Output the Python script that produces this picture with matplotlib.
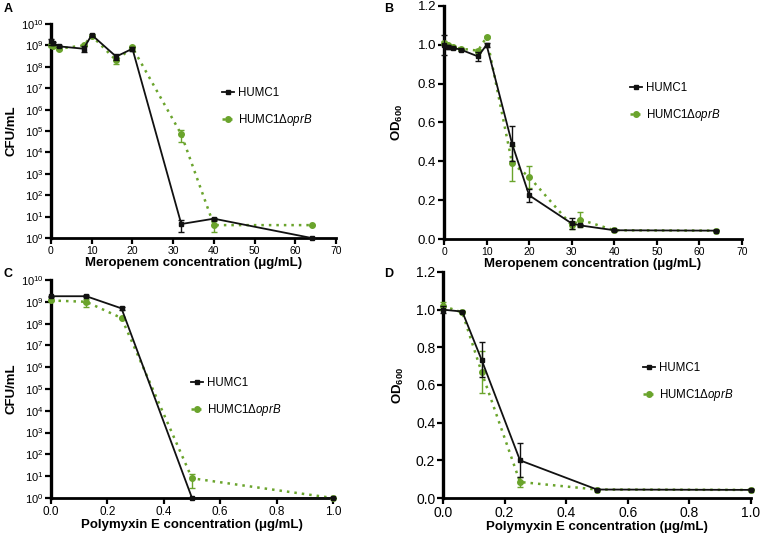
import numpy as np
import matplotlib
matplotlib.use("Agg")
import matplotlib.pyplot as plt
from matplotlib.lines import Line2D
from matplotlib.ticker import FixedLocator, NullLocator

plt.rcParams['font.family'] = ['Liberation Sans', 'DejaVu Sans']
plt.rcParams['mathtext.fontset'] = 'custom'
plt.rcParams['mathtext.rm'] = 'Liberation Sans'
plt.rcParams['mathtext.it'] = 'Liberation Sans:italic'
plt.rcParams['mathtext.bf'] = 'Liberation Sans:bold'

BLACK = '#111111'
GREEN = '#6aa42c'
LABELS = ['HUMC1', 'HUMC1Δ$\\mathit{oprB}$']

# Panel A: meropenem, CFU/mL
mero_cfu_x = [0, 0.5, 2, 8, 10, 16, 20, 32, 40, 64]
mero_cfu_wt = [1.6e9, 1.3e9, 9e8, 7e8, 3.1e9, 3e8, 7e8, 4.5, 8, 1]
mero_cfu_wt_err = [0.5e9, 0.2e9, 0.1e9, 2e8, 0.4e9, 1e8, 1.5e8, 2.5, 1, 0]
mero_cfu_mut = [1.0e9, 9e8, 7e8, 1.0e9, 2.8e9, 2e8, 8e8, 7e4, 4, 4]
mero_cfu_mut_err = [0.2e9, 0.1e9, 0.1e9, 0.1e9, 0.3e9, 0.6e8, 1e8, 4e4, 2, 0]

# Panel B: meropenem, OD600
mero_od_x = [0, 1, 2, 4, 8, 10, 16, 20, 30, 32, 40, 64]
mero_od_wt = [1.0, 0.99, 0.985, 0.975, 0.94, 1.0, 0.49, 0.225, 0.08, 0.07, 0.045, 0.043]
mero_od_wt_err = [0.05, 0.01, 0.005, 0.005, 0.025, 0.01, 0.09, 0.035, 0.03, 0.005, 0.003, 0.003]
mero_od_mut = [1.01, 1.0, 0.99, 0.98, 0.97, 1.04, 0.39, 0.32, 0.07, 0.10, 0.045, 0.043]
mero_od_mut_err = [0.01, 0.005, 0.005, 0.005, 0.01, 0.005, 0.09, 0.055, 0.02, 0.04, 0.003, 0.003]

# Panel C: polymyxin E, CFU/mL
poly_cfu_x = [0, 0.125, 0.25, 0.5, 1.0]
poly_cfu_wt = [1.8e9, 1.8e9, 5e8, 1, 1]
poly_cfu_wt_err = [0.1e9, 0.2e9, 1e8, 0, 0]
poly_cfu_mut = [1.15e9, 1.0e9, 1.8e8, 8, 1]
poly_cfu_mut_err = [0.1e9, 0.4e9, 0.6e7, 5, 0]

# Panel D: polymyxin E, OD600
poly_od_x = [0, 0.0625, 0.125, 0.25, 0.5, 1.0]
poly_od_wt = [1.0, 0.99, 0.735, 0.2, 0.045, 0.043]
poly_od_wt_err = [0.02, 0.005, 0.095, 0.09, 0.003, 0.003]
poly_od_mut = [1.02, 0.985, 0.67, 0.085, 0.045, 0.043]
poly_od_mut_err = [0.02, 0.005, 0.11, 0.025, 0.003, 0.003]

W, H = 760, 535
fig = plt.figure(figsize=(W / 100, H / 100), dpi=100)

WT_STYLE = dict(color=BLACK, ls='-', lw=1.3, marker='s', ms=3.5)
MUT_STYLE = dict(color=GREEN, ls=(0, (1, 2)), lw=1.8, marker='o', ms=4)


def px_axes(left, top, right, bottom):
    return fig.add_axes([left / W, 1 - bottom / H, (right - left) / W, (bottom - top) / H])


def draw_series(ax, x, wt, wt_err, mut, mut_err):
    ax.errorbar(x, mut, yerr=mut_err, capsize=2, elinewidth=1, clip_on=False, zorder=3, **MUT_STYLE)
    ax.errorbar(x, wt, yerr=wt_err, capsize=2, elinewidth=1, clip_on=False, zorder=4, **WT_STYLE)


def style(ax, xlabel, ylabel, xsize, ysize, ypad=2):
    for s in ['top', 'right']:
        ax.spines[s].set_visible(False)
    ax.spines['left'].set_linewidth(2.4)
    ax.spines['bottom'].set_linewidth(2.0)
    ax.tick_params(which='major', direction='out', length=4, width=1.6, pad=1.5)
    ax.tick_params(axis='x', labelsize=xsize)
    ax.tick_params(axis='y', labelsize=ysize)
    ax.set_xlabel(xlabel, fontsize=9.5, fontweight='bold', labelpad=1)
    ax.set_ylabel(ylabel, fontsize=9.5, fontweight='bold', labelpad=ypad)


def legend(ax, x, y):
    handles = [Line2D([], [], **WT_STYLE), Line2D([], [], **MUT_STYLE)]
    ax.legend(handles, LABELS, loc='upper left', bbox_to_anchor=(x / W, 1 - y / H),
              bbox_transform=fig.transFigure, frameon=False, fontsize=8.3,
              handlelength=1.0, handletextpad=0.4, labelspacing=1.15, borderaxespad=0,
              borderpad=0)


def log_axis(ax):
    ax.set_yscale('log')
    ax.set_ylim(1, 1e10)
    ax.yaxis.set_major_locator(FixedLocator([10.0 ** k for k in range(11)]))
    ax.yaxis.set_minor_locator(NullLocator())
    ax.set_yticklabels(['10$^{%d}$' % k for k in range(11)])


mero_xlabel = 'Meropenem concentration (\u03bcg/mL)'
poly_xlabel = 'Polymyxin E concentration (\u03bcg/mL)'
od_ticks = np.arange(0, 1.21, 0.2)
poly_ticks = np.arange(0, 1.01, 0.2)

# A
axA = px_axes(51, 24, 336, 238)
draw_series(axA, mero_cfu_x, mero_cfu_wt, mero_cfu_wt_err, mero_cfu_mut, mero_cfu_mut_err)
log_axis(axA)
axA.set_xlim(0, 70)
axA.set_xticks(range(0, 71, 10))
style(axA, mero_xlabel, 'CFU/mL', 7.5, 8)
legend(axA, 222, 87)

# B
axB = px_axes(444, 6, 742, 239)
draw_series(axB, mero_od_x, mero_od_wt, mero_od_wt_err, mero_od_mut, mero_od_mut_err)
axB.set_xlim(0, 70)
axB.set_ylim(0, 1.2)
axB.set_xticks(range(0, 71, 10))
axB.set_yticks(od_ticks)
axB.set_yticklabels(['%.1f' % v for v in od_ticks])
style(axB, mero_xlabel, r'$\mathbf{OD_{600}}$', 7.5, 9.5, ypad=9)
legend(axB, 630, 82)

# C
axC = px_axes(51, 280, 333, 498)
draw_series(axC, poly_cfu_x, poly_cfu_wt, poly_cfu_wt_err, poly_cfu_mut, poly_cfu_mut_err)
log_axis(axC)
axC.set_xlim(0, 1.0)
axC.set_xticks(poly_ticks)
axC.set_xticklabels(['%.1f' % v for v in poly_ticks])
style(axC, poly_xlabel, 'CFU/mL', 8.5, 8)
legend(axC, 191, 377)

# D
axD = px_axes(443, 272, 751, 498)
draw_series(axD, poly_od_x, poly_od_wt, poly_od_wt_err, poly_od_mut, poly_od_mut_err)
axD.set_xlim(0, 1.0)
axD.set_ylim(0, 1.2)
axD.set_xticks(poly_ticks)
axD.set_xticklabels(['%.1f' % v for v in poly_ticks])
axD.set_yticks(od_ticks)
axD.set_yticklabels(['%.1f' % v for v in od_ticks])
style(axD, poly_xlabel, r'$\mathbf{OD_{600}}$', 10, 10, ypad=7)
legend(axD, 643, 362)

for lbl, (x, y) in zip('ABCD', [(4, 3), (384, 3), (4, 268), (384, 268)]):
    fig.text(x / W, 1 - y / H, lbl, fontsize=9, fontweight='bold', va='top', ha='left')

fig.savefig('out.png', dpi=100)
